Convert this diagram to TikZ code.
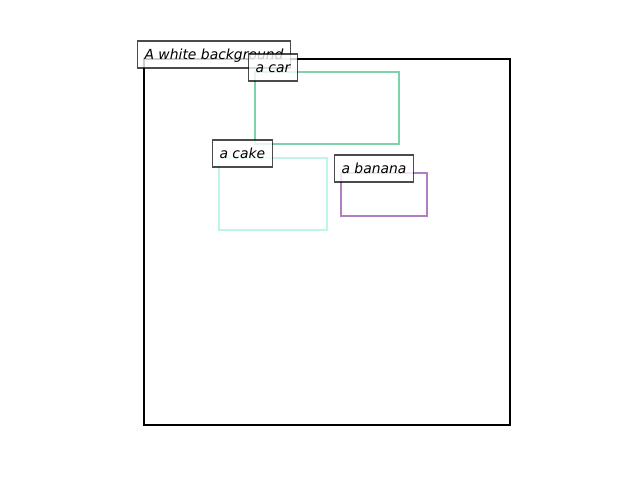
\documentclass[tikz,border=0pt]{standalone}
\usepackage{fontspec}
\setmainfont{DejaVu Sans}
\definecolor{carcol}{HTML}{7FD1AC}
\definecolor{cakecol}{HTML}{BDF5EA}
\definecolor{bananacol}{HTML}{B07FC4}
\tikzset{
	tag/.style={anchor=base west, xshift=-7pt, fill=white, fill opacity=0.8, text opacity=1,
		draw=black, draw opacity=0.7, line width=1.1pt, inner xsep=7pt, inner ysep=4pt,
		text height=14pt, text depth=5pt, font=\fontsize{13.9}{16}\selectfont\itshape},
	objbox/.style={line width=2.2pt}
}
\begin{document}
\begin{tikzpicture}[x=1pt, y=-1pt]
			\useasboundingbox (0,0) rectangle (640,480);

			% Draw the background frame
			\draw[line width=2.2pt] (144,59) rectangle (510,425);
			\node[tag] (background) at (144,59) {A white background};

			% Draw the object boxes
			\draw[objbox, carcol] (255,72) rectangle (399,144);
			\node[tag] (car) at (255,72) {a car};

			\draw[objbox, cakecol] (219,158) rectangle (327,230);
			\node[tag] (cake) at (219,158) {a cake};

			\draw[objbox, bananacol] (341,173) rectangle (427,216);
			\node[tag] (banana) at (341,173) {a banana};

		\end{tikzpicture}
\end{document}
